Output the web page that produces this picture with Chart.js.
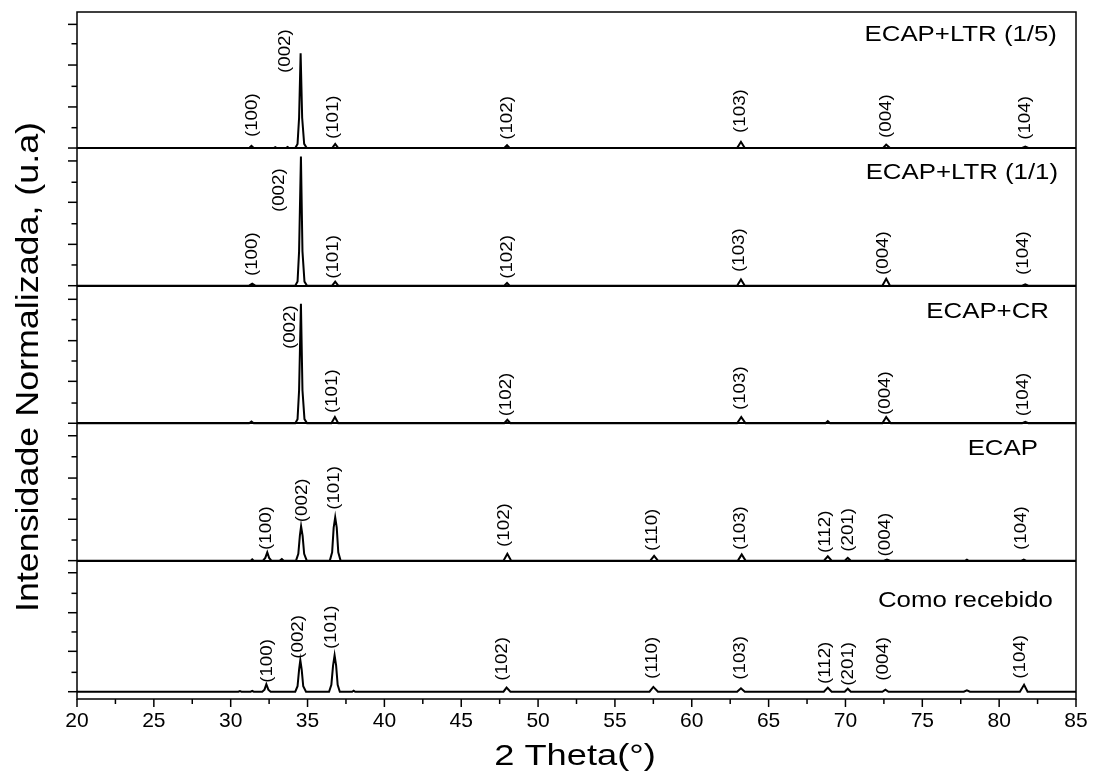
<!DOCTYPE html>
<html><head><meta charset="utf-8">
<script src="https://cdn.jsdelivr.net/npm/chart.js@4.4.1/dist/chart.umd.min.js"></script>
<style>html,body{margin:0;padding:0;background:#fff;}#wrap{width:1093px;height:778px;}</style>
</head><body><div id="wrap"><canvas id="c" width="1093" height="778"></canvas></div>
<script>
// ---- data ----
const seriesNames = ['ECAP+LTR (1/5)', 'ECAP+LTR (1/1)', 'ECAP+CR', 'ECAP', 'Como recebido'];
// vertical offset of each stacked layer (layer units, 1 = one layer)
const layerOffsets = [4.01, 3.008, 2.007, 1.007, 0.053];
// [2theta, normalized intensity (100 = one layer)]
const ltr15 = [[20,0],[31.2,0],[31.35,1.5],[31.5,0],[32.8,0],[32.9,0.7],[33.0,0],[33.6,0],[33.7,0.8],[33.8,0],[34.2,0],[34.35,3],[34.45,22],[34.55,69],[34.65,22],[34.78,3],[34.95,0],[36.6,0],[36.8,3],[37.0,0],[47.8,0],[47.98,2],[48.15,0],[62.95,0],[63.2,4.5],[63.45,0],[72.45,0],[72.65,2.5],[72.9,0],[81.5,0],[81.7,1],[81.9,0],[85,0]];
const ltr11 = [[20,0],[31.2,0],[31.4,1.5],[31.6,0],[34.2,0],[34.35,3],[34.45,25],[34.57,94],[34.67,25],[34.8,3],[34.97,0],[36.6,0],[36.8,3],[37.0,0],[47.8,0],[47.98,2],[48.15,0],[62.95,0],[63.2,4.5],[63.45,0],[72.4,0],[72.65,5],[72.9,0],[81.5,0],[81.7,1],[81.9,0],[85,0]];
const ecapCr = [[20,0],[31.2,0],[31.35,1.2],[31.5,0],[34.2,0],[34.35,3],[34.45,24],[34.57,87],[34.67,24],[34.8,3],[34.97,0],[36.55,0],[36.78,4.5],[37.0,0],[47.8,0],[48.0,2.5],[48.2,0],[62.95,0],[63.22,4.5],[63.5,0],[68.7,0],[68.85,1.5],[69.0,0],[72.4,0],[72.65,4.5],[72.95,0],[81.5,0],[81.7,1],[81.9,0],[85,0]];
const ecap = [[20,0],[31.3,0],[31.4,1],[31.5,0],[32.1,0],[32.25,2],[32.38,6],[32.5,2],[32.65,0],[33.2,0],[33.33,1.2],[33.45,0],[34.25,0],[34.4,5],[34.5,18],[34.58,25],[34.68,18],[34.78,5],[34.95,0],[36.45,0],[36.6,6],[36.7,24],[36.8,31.5],[36.9,24],[37.0,6],[37.15,0],[47.75,0],[48.0,5],[48.25,0],[57.3,0],[57.55,3.5],[57.8,0],[63.0,0],[63.25,4.5],[63.5,0],[68.6,0],[68.85,3.2],[69.1,0],[69.95,0],[70.15,2],[70.35,0],[72.5,0],[72.7,0.8],[72.9,0],[77.8,0],[77.9,0.7],[78.0,0],[81.45,0],[81.6,0.8],[81.75,0],[85,0]];
const comoRecebido = [[20,0],[30.5,0],[30.6,0.5],[30.7,0],[31.3,0],[31.4,0.6],[31.5,0],[32.05,0],[32.2,1.5],[32.32,5.5],[32.45,1.5],[32.6,0],[34.2,0],[34.35,4],[34.45,16],[34.53,23],[34.62,16],[34.72,4],[34.9,0],[36.4,0],[36.55,5],[36.66,19],[36.76,26.5],[36.86,19],[36.96,5],[37.1,0],[37.9,0],[38.0,0.8],[38.1,0],[47.75,0],[47.95,3],[48.2,0],[57.25,0],[57.5,3.5],[57.8,0],[62.95,0],[63.2,2.5],[63.45,0],[68.6,0],[68.85,3],[69.1,0],[69.95,0],[70.15,2.2],[70.35,0],[72.4,0],[72.6,1.5],[72.8,0],[77.7,0],[77.9,1],[78.1,0],[81.35,0],[81.62,5],[81.85,0],[85,0]];
const traces = [ltr15, ltr11, ecapCr, ecap, comoRecebido];
// peak labels: [text, 2theta, intensity at label start]
const peaksLtr15 = [['(100)',31.4,8],['(002)',33.55,54.6],['(101)',36.7,6.5],['(102)',48.0,6],['(103)',63.2,11],['(004)',72.7,7.3],['(104)',81.75,6]];
const peaksLtr11 = [['(100)',31.4,7],['(002)',33.2,53.6],['(101)',36.7,5],['(102)',48.0,5],['(103)',63.1,10],['(004)',72.5,7.8],['(104)',81.6,7.8]];
const peaksEcapCr = [['(002)',33.87,54],['(101)',36.64,7.4],['(102)',47.94,5],['(103)',63.15,9.6],['(004)',72.6,6],['(104)',81.6,5]];
const peaksEcap = [['(100)',32.35,7.8],['(002)',34.65,28],['(101)',36.77,37],['(102)',47.85,10],['(110)',57.42,7],['(103)',63.15,7.8],['(112)',68.72,5.6],['(201)',70.18,6.5],['(004)',72.62,3],['(104)',81.48,7.8]];
const peaksComo = [['(100)',32.37,6.5],['(002)',34.4,24],['(101)',36.58,31],['(102)',47.7,8],['(110)',57.42,9.2],['(103)',63.15,8.7],['(112)',68.72,5.6],['(201)',70.18,4.4],['(004)',72.46,8],['(104)',81.38,9.5]];
const peakLabels = [peaksLtr15, peaksLtr11, peaksEcapCr, peaksEcap, peaksComo];
// layer name anchor: [2theta of right edge, intensity of text baseline]
const nameAnchors = [[83.76,77.9],[83.83,77.7],[83.24,76.6],[82.52,77],[83.5,61.4]];
// axis ticks
const xTicks = [20,22.5,25,27.5,30,32.5,35,37.5,40,42.5,45,47.5,50,52.5,55,57.5,60,62.5,65,67.5,70,72.5,75,77.5,80,82.5,85];
const xTickLabels = ['20','25','30','35','40','45','50','55','60','65','70','75','80','85'];
const yTicks = [
  [4.010,4.158,4.309,4.459,4.614,4.769,4.910],
  [3.008,3.159,3.309,3.459,3.615,3.761,3.916],
  [2.007,2.154,2.312,2.460,2.608,2.761,2.909],
  [1.007,1.157,1.308,1.456,1.608,1.763,1.916],
  [0.053,0.194,0.347,0.488,0.628,0.769,0.919]
];
const xTitle = '2 Theta(°)';
const yTitle = 'Intensidade Normalizada, (u.a)';

// ---- drawing ----
const FONT = '"Liberation Sans", Arial, sans-serif';
function stretchedText(ctx, text, x, y, size, align, baseline, rot, sx) {
  ctx.save();
  ctx.translate(x, y);
  ctx.rotate(rot);
  ctx.scale(sx, 1);
  ctx.font = size + 'px ' + FONT;
  ctx.textAlign = align;
  ctx.textBaseline = baseline;
  ctx.fillStyle = '#000';
  ctx.fillText(text, 0, 0);
  ctx.restore();
}

const decor = {
  id: 'decor',
  afterDatasetsDraw(chart) {
    const {ctx, chartArea: a, scales: {x, y}} = chart;
    ctx.save();
    ctx.strokeStyle = '#000';
    ctx.lineCap = 'butt';
    // layer separators
    ctx.lineWidth = 2;
    for (let i = 0; i < 4; i++) {
      const py = Math.round(y.getPixelForValue(layerOffsets[i]));
      ctx.beginPath(); ctx.moveTo(a.left, py); ctx.lineTo(a.right, py); ctx.stroke();
    }
    // frame
    ctx.lineWidth = 1.5;
    ctx.strokeRect(a.left, a.top, a.right - a.left, a.bottom - a.top);
    // y ticks
    yTicks.forEach(layer => layer.forEach((v, k) => {
      const py = y.getPixelForValue(v);
      const len = (k % 2 === 0) ? 9 : 5.5;
      ctx.beginPath(); ctx.moveTo(a.left - len, py); ctx.lineTo(a.left, py); ctx.stroke();
    }));
    // x ticks
    xTicks.forEach((v, k) => {
      const px = x.getPixelForValue(v);
      const len = (k % 2 === 0) ? 8 : 5;
      ctx.beginPath(); ctx.moveTo(px, a.bottom); ctx.lineTo(px, a.bottom + len); ctx.stroke();
    });
    // peak labels
    peakLabels.forEach((list, i) => list.forEach(([t, th, h]) => {
      const px = x.getPixelForValue(th);
      const py = y.getPixelForValue(layerOffsets[i] + h / 100);
      stretchedText(ctx, t, px, py, 16, 'left', 'middle', -Math.PI / 2, 1.17);
    }));
    // layer names
    seriesNames.forEach((n, i) => {
      const [th, h] = nameAnchors[i];
      stretchedText(ctx, n, x.getPixelForValue(th), y.getPixelForValue(layerOffsets[i] + h / 100), 21.5, 'right', 'alphabetic', 0, 1.2);
    });
    // axis titles
    stretchedText(ctx, xTitle, 575, 757, 29, 'center', 'middle', 0, 1.25);
    stretchedText(ctx, yTitle, 29, 367, 32, 'center', 'middle', -Math.PI / 2, 1.12);
    ctx.restore();
  }
};

new Chart(document.getElementById('c'), {
  type: 'line',
  data: {
    datasets: traces.map((t, i) => ({
      label: seriesNames[i],
      data: t.map(p => ({x: p[0], y: layerOffsets[i] + p[1] / 100})),
      borderColor: '#000', borderWidth: 2, pointRadius: 0, fill: false, tension: 0
    }))
  },
  options: {
    responsive: false, animation: false, devicePixelRatio: 1,
    layout: {padding: {left: 0, right: 17, top: 12, bottom: 0}},
    plugins: {legend: {display: false}, tooltip: {enabled: false}},
    scales: {
      x: {
        type: 'linear', min: 20, max: 85, position: 'bottom',
        afterBuildTicks: s => { s.ticks = xTicks.map(v => ({value: v})); },
        afterFit: s => { s.height = 79; s.paddingLeft = 0; s.paddingRight = 0; },
        grid: {display: false, drawTicks: false},
        border: {display: false},
        ticks: {
          autoSkip: false, maxRotation: 0, padding: 10, color: '#000',
          font: {family: 'Liberation Sans', size: 21},
          callback: (v) => (v % 5 === 0 ? xTickLabels[(v - 20) / 5] : '')
        }
      },
      y: {
        type: 'linear', min: 0, max: 5, position: 'left',
        afterFit: s => { s.width = 77; s.paddingTop = 0; s.paddingBottom = 0; },
        grid: {display: false}, border: {display: false},
        ticks: {display: false}
      }
    }
  },
  plugins: [decor]
});
</script></body></html>
